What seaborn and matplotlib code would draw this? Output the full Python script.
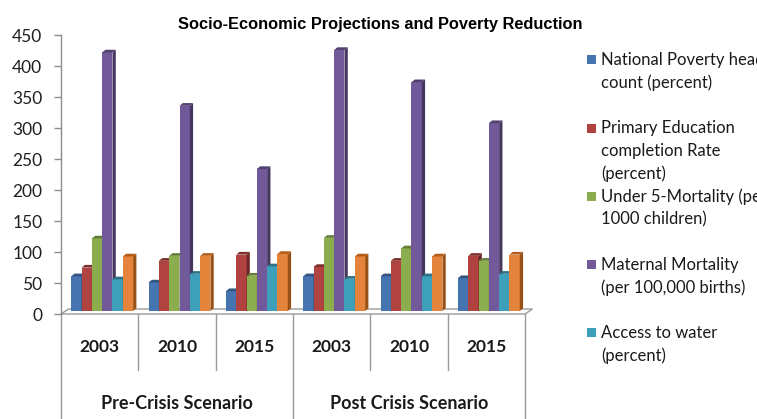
import colorsys

import matplotlib
matplotlib.use("Agg")
import matplotlib.pyplot as plt
import matplotlib.transforms as mtransforms
from matplotlib import font_manager
from matplotlib.colors import to_rgb
from matplotlib.patches import Polygon, Rectangle
import numpy as np
import pandas as pd
import seaborn as sns

# ---- data -------------------------------------------------------------
scenarios = ["Pre-Crisis Scenario", "Post Crisis Scenario"]
years = ["2003", "2010", "2015"]

series = [
    "National Poverty head\ncount (percent)",
    "Primary Education\ncompletion Rate\n(percent)",
    "Under 5-Mortality (per\n1000 children)",
    "Maternal Mortality\n(per 100,000 births)",
    "Access to water\n(percent)",
    "Access to sanitation\n(percent)",
]

# one value per scenario/year column, pre-crisis first
poverty = [56, 46, 32, 56, 56, 53]
primary_education = [70, 81, 91, 71, 81, 89]
under5_mortality = [117, 89, 57, 118, 101, 81]
maternal_mortality = [417, 331, 229, 421, 369, 303]
water_access = [51, 60, 72, 52, 56, 60]
sanitation_access = [88, 89, 92, 88, 88, 91]

y_ticks = [0, 50, 100, 150, 200, 250, 300, 350, 400, 450]

colors = ["#4674B0", "#B0423F", "#8BAD4E", "#72599A", "#3E9FBA", "#E3843A"]

# ---- table ------------------------------------------------------------
categories = [f"{s} {y}" for s in scenarios for y in years]
values = [poverty, primary_education, under5_mortality,
          maternal_mortality, water_access, sanitation_access]
df = pd.DataFrame(
    [(c, s, v) for s, vals in zip(series, values) for c, v in zip(categories, vals)],
    columns=["category", "series", "value"],
)

# ---- fonts ------------------------------------------------------------
sns.set_style("white")
installed = {f.name for f in font_manager.fontManager.ttflist}
body_font = ["Lato", "DejaVu Sans"]
plt.rcParams["font.family"] = body_font
if "Liberation Sans Narrow" in installed:
    title_font, title_size = ["Liberation Sans Narrow", "DejaVu Sans"], 13
else:
    title_font, title_size = ["Liberation Sans", "DejaVu Sans"], 11.8

W, H = 757, 419
fig = plt.figure(figsize=(W / 100, H / 100), dpi=100)
ax = fig.add_axes([61 / W, 1 - 314 / H, 464 / W, 279 / H])

sns.barplot(
    data=df, x="category", y="value", hue="series",
    order=categories, hue_order=series, palette=colors,
    width=0.8, saturation=1, errorbar=None, legend=False,
    linewidth=0, ax=ax,
)

ax.set_xlim(-0.5, len(categories) - 0.5)
ax.set_ylim(y_ticks[0], y_ticks[-1])
ax.set_yticks(y_ticks)
ax.set_xticks([])
ax.set_xlabel("")
ax.set_ylabel("")

for side in ("top", "right", "bottom"):
    ax.spines[side].set_visible(False)
ax.spines["left"].set_color("#8C8C8C")
ax.spines["left"].set_linewidth(1)
ax.tick_params(axis="y", length=5, width=1, color="#8C8C8C", pad=8.5,
               labelsize=12.5, labelcolor="#202020", left=True)


def shade(c, f):
    r, g, b = to_rgb(c)
    h, l, s = colorsys.rgb_to_hls(r, g, b)
    return colorsys.hls_to_rgb(h, max(0, min(1, l * f)), s)


# pixel -> data conversions
px_x = 464 / (len(categories))
px_y = 279 / (y_ticks[-1] - y_ticks[0])

# bars sit a little behind the front edge of the floor
bar_tr = mtransforms.offset_copy(ax.transData, fig=fig, x=2.5, y=3, units="dots")
ddx, ddy = 3.3 / px_x, 2.7 / px_y

bars = sorted([p for p in ax.patches if isinstance(p, Rectangle)],
              key=lambda p: p.get_x())
for i, p in enumerate(bars):
    z = 3 + i * 0.01
    x0, w, top = p.get_x(), p.get_width(), p.get_height()
    base = p.get_facecolor()
    p.set_transform(bar_tr)
    p.set_zorder(z)
    p.set_clip_on(False)
    side_face = Polygon(
        [(x0 + w, 0), (x0 + w + ddx, ddy), (x0 + w + ddx, top + ddy), (x0 + w, top)],
        closed=True, facecolor=shade(base, 0.62), edgecolor="none",
        transform=bar_tr, zorder=z + 0.001, clip_on=False)
    top_face = Polygon(
        [(x0, top), (x0 + w, top), (x0 + w + ddx, top + ddy), (x0 + ddx, top + ddy)],
        closed=True, facecolor=shade(base, 0.72), edgecolor="none",
        transform=bar_tr, zorder=z + 0.002, clip_on=False)
    ax.add_patch(side_face)
    ax.add_patch(top_face)

# floor slab
fdx, fdy = 7.5 / px_x, 5 / px_y
x_lo, x_hi = -0.5, len(categories) - 0.5
floor = Polygon([(x_lo, 0), (x_hi, 0), (x_hi + fdx, fdy), (x_lo + fdx, fdy)],
                closed=True, facecolor="white", edgecolor="#9A9A9A", lw=1,
                zorder=1, clip_on=False)
ax.add_patch(floor)

# category table below the plot
fig_x = mtransforms.blended_transform_factory(ax.transData, fig.transFigure)
y_axis = 1 - 314 / H
y_year_end = 1 - 370 / H
for b in np.arange(len(categories) + 1) - 0.5:
    idx = int(b + 0.5)
    y_end = 0 if idx % len(years) == 0 else y_year_end
    ax.plot([b, b], [y_axis, y_end], color="#9A9A9A", lw=1,
            transform=fig_x, clip_on=False)

for i, c in enumerate(categories):
    ax.text(i, 1 - 347 / H, years[i % len(years)], transform=fig_x,
            ha="center", va="center", fontsize=12.5, fontweight="bold",
            color="#1A1A1A")
for j, s in enumerate(scenarios):
    mid = j * len(years) + (len(years) - 1) / 2
    ax.text(mid, 1 - 403 / H, s, transform=fig_x, ha="center", va="center",
            fontsize=13, fontweight="bold", color="#1A1A1A")

ax.set_xlim(x_lo, x_hi)

# title
fig.text(380.5 / W, 1 - 25 / H, "Socio-Economic Projections and Poverty Reduction",
         ha="center", va="center", fontsize=title_size, fontweight="bold",
         family=title_font, color="#000000")

# legend: the box has room for five entries
line_h = 23
for k, (name, col) in enumerate(list(zip(series, colors))[:5]):
    y0 = 60 + 68.2 * k
    fig.patches.append(Rectangle((587 / W, 1 - (y0 + 4.5) / H), 9 / W, 9 / H,
                                 transform=fig.transFigure, facecolor=col,
                                 edgecolor="none"))
    for n, line in enumerate(name.split("\n")):
        fig.text(601 / W, 1 - (y0 + n * line_h) / H, line, ha="left",
                 va="center", fontsize=12, color="#1A1A1A")

fig.savefig("out.png", dpi=100)
